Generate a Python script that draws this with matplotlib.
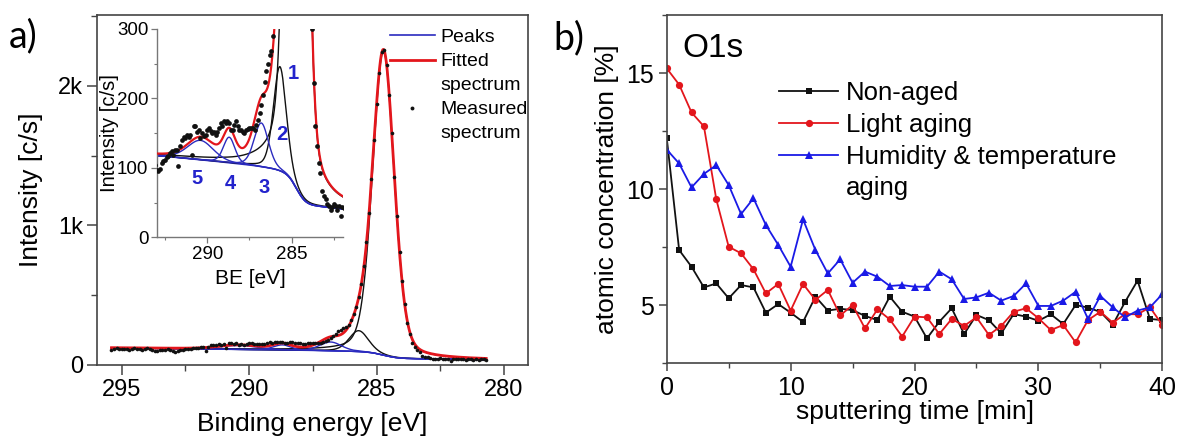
import numpy as np
import matplotlib
matplotlib.use("Agg")
import matplotlib.pyplot as plt
from matplotlib.ticker import MultipleLocator, FixedLocator, FixedFormatter
from matplotlib.lines import Line2D

plt.rcParams['font.family'] = ['Liberation Sans', 'DejaVu Sans']

# ---------------- panel a : C1s spectrum ----------------
be_first, be_step = 295.4, 0.1          # binding energy of first measured point, step (eV)
measured_counts = [
    108, 118, 122, 115, 112, 117, 114, 110, 116, 121,
    118, 113, 109, 115, 120, 112, 106, 101, 97, 104,
    110, 107, 113, 104, 97, 95, 98, 107, 110, 112,
    116, 117, 121, 124, 119, 126, 126, 102, 132, 140,
    145, 143, 148, 145, 148, 119, 160, 160, 152, 155,
    143, 150, 146, 148, 155, 157, 153, 150, 152, 148,
    152, 157, 164, 160, 167, 165, 167, 164, 155, 155,
    162, 167, 160, 155, 155, 152, 150, 155, 156, 157,
    157, 157, 155, 162, 169, 179, 190, 205, 224, 240,
    250, 262, 269, 290, 322, 365, 418, 488, 580, 712,
    880, 1090, 1335, 1610, 1870, 2095, 2240, 2255, 2150, 1935,
    1660, 1350, 1065, 810, 600, 440, 300, 222, 160, 131,
    107, 93, 66, 60, 55, 48, 45, 40, 44, 48,
    45, 40, 45, 31, 44, 42, 46, 40, 43, 38,
    44, 41, 37, 42, 39, 43, 40, 38,
]
peak_center = [284.73, 285.70, 286.80, 288.70, 290.40]
peak_height = [2178, 150, 63, 37, 28]
peak_fwhm = [1.00, 0.90, 1.00, 0.80, 1.80]
peak_is_main = [True, True, False, False, False]
gl_fraction = 0.25
bg_low, bg_step, bg_slope = 38, 55, 2.0
peak_labels = ['1', '2', '3', '4', '5']
peak_label_be = [284.9, 285.6, 286.61, 288.62, 290.61]
peak_label_int = [236, 148, 72, 78, 85]

# ---------------- panel b : O1s depth profile ----------------
sputter_time = list(range(41))
non_aged = [12.2, 7.37, 6.65, 5.76, 5.93, 5.29, 5.86, 5.76, 4.67, 5.04,
            4.67, 4.27, 5.36, 4.76, 4.84, 4.78, 4.53, 4.35, 5.36, 4.71,
            4.5, 3.56, 4.28, 4.86, 3.75, 4.57, 4.35, 3.78, 4.61, 4.5,
            4.32, 4.6, 4.18, 5.0, 4.89, 4.7, 4.15, 5.14, 6.05, 4.4, 4.35]
light_aging = [15.2, 14.5, 13.3, 12.7, 9.55, 7.51, 7.23, 6.54, 5.50, 5.91,
               4.76, 5.91, 5.22, 5.65, 4.55, 5.0, 3.99, 4.81, 4.38, 3.64,
               4.5, 4.47, 3.75, 4.4, 4.1, 4.47, 3.71, 4.1, 4.71, 4.86,
               4.43, 3.92, 4.14, 3.39, 4.35, 4.71, 4.24, 4.61, 4.6, 4.9, 4.14]
humid_aging = [11.7, 11.1, 10.07, 10.65, 11.03, 10.17, 8.92, 9.6, 8.45, 7.59,
               6.65, 8.69, 7.37, 6.36, 6.97, 5.96, 6.44, 6.22, 5.82, 5.86,
               5.79, 5.79, 6.44, 6.11, 5.26, 5.33, 5.53, 5.19, 5.39, 5.93,
               4.96, 4.96, 5.19, 5.57, 4.4, 5.39, 4.9, 4.47, 4.76, 4.9, 5.47]
series_labels = ['Non-aged', 'Light aging', 'Humidity & temperature', 'aging']

# ---------------- styles ----------------
RED = '#e3161c'
BLUE_A = '#2b2bbf'
BLUE_B = '#1a1ae6'
BLACK = '#111111'
SPINE = '#444444'

be_meas = be_first - be_step * np.arange(len(measured_counts))
meas = np.array(measured_counts, dtype=float)


def pseudo_voigt(e, c, h, w, eta):
    d = e - c
    g = np.exp(-4 * np.log(2) * d ** 2 / w ** 2)
    lor = (w / 2) ** 2 / (d ** 2 + (w / 2) ** 2)
    return h * ((1 - eta) * g + eta * lor)


E = np.linspace(be_meas.min(), be_meas.max(), 2000)
comps = [pseudo_voigt(E, c, h, w, gl_fraction)
         for c, h, w in zip(peak_center, peak_height, peak_fwhm)]
peak_sum = np.sum(comps, axis=0)
cum = np.cumsum(peak_sum)
shirley = cum / cum[-1]
background = bg_low + bg_step * shirley + bg_slope * (E - E.min())
fitted = background + peak_sum

fig = plt.figure(figsize=(11.78, 4.38), dpi=100)

# ---- main axes a ----
ax = fig.add_axes([0.0821, 0.1667, 0.3659, 0.7998])
ax.plot(E, background, color=BLUE_A, lw=1.0, zorder=2)
for comp, main in zip(comps, peak_is_main):
    ax.plot(E, background + comp, color=(BLACK if main else BLUE_A), lw=1.0, zorder=2)
ax.plot(E, fitted, color=RED, lw=2.0, zorder=3)
ax.plot(be_meas, meas, 'o', ms=2.6, color=BLACK, mew=0, zorder=4)
ax.set_xlim(295.98, 279.07)
ax.set_ylim(0, 2510)
ax.xaxis.set_major_locator(MultipleLocator(5))
ax.xaxis.set_minor_locator(MultipleLocator(2.5))
ax.yaxis.set_major_locator(FixedLocator([0, 1000, 2000]))
ax.yaxis.set_major_formatter(FixedFormatter(['0', '1k', '2k']))
ax.yaxis.set_minor_locator(MultipleLocator(500))
ax.tick_params(which='major', direction='out', length=7, width=1.1, labelsize=17, pad=3, color=SPINE)
ax.tick_params(which='minor', direction='out', length=4, width=1.0, color=SPINE)
for s in ax.spines.values():
    s.set_color(SPINE)
    s.set_linewidth(1.2)
ax.set_xlabel('Binding energy [eV]', fontsize=19)
ax.set_ylabel('Intensity [c/s]', fontsize=19)
ax.xaxis.set_label_coords(0.5, -0.135)
ax.yaxis.set_label_coords(-0.125, 0.5)

leg_handles = [Line2D([], [], color=BLUE_A, lw=1.2),
               Line2D([], [], color=RED, lw=2.0),
               Line2D([], [], color='none'),
               Line2D([], [], ls='none', marker='o', ms=2.8, color=BLACK, mew=0),
               Line2D([], [], color='none')]
ax.legend(leg_handles, ['Peaks', 'Fitted', 'spectrum', 'Measured', 'spectrum'],
          loc='upper left', bbox_to_anchor=(0.68, 0.96), frameon=False, fontsize=14,
          handlelength=2.3, handletextpad=0.3, labelspacing=0.33, borderpad=0,
          borderaxespad=0)

# ---- inset ----
axi = fig.add_axes([0.1330, 0.4582, 0.1584, 0.4756])
axi.patch.set_alpha(0)
axi.plot(E, background, color=BLUE_A, lw=1.0, zorder=2)
for comp, main in zip(comps, peak_is_main):
    axi.plot(E, background + comp, color=(BLACK if main else BLUE_A), lw=1.0, zorder=2)
axi.plot(E, fitted, color=RED, lw=1.6, zorder=3)
axi.plot(be_meas, meas, 'o', ms=3.4, color=BLACK, mew=0, zorder=4)
axi.set_xlim(292.99, 281.95)
axi.set_ylim(0, 300)
axi.spines['top'].set_visible(False)
axi.spines['right'].set_visible(False)
for s in ['left', 'bottom']:
    axi.spines[s].set_color('#777777')
    axi.spines[s].set_linewidth(1.0)
axi.xaxis.set_major_locator(MultipleLocator(5))
axi.xaxis.set_minor_locator(MultipleLocator(2.5))
axi.yaxis.set_major_locator(MultipleLocator(100))
axi.yaxis.set_minor_locator(MultipleLocator(50))
axi.tick_params(which='major', direction='out', length=4, width=0.9, labelsize=13.5, pad=2, color='#777777')
axi.tick_params(which='minor', direction='out', length=2.5, width=0.8, color='#777777')
axi.set_xlabel('BE [eV]', fontsize=15)
axi.set_ylabel('Intensity [c/s]', fontsize=14.5)
axi.xaxis.set_label_coords(0.5, -0.152)
axi.yaxis.set_label_coords(-0.2, 0.5)
for lab, x, y in zip(peak_labels, peak_label_be, peak_label_int):
    axi.text(x, y, lab, color='#2323cc', fontsize=14.5, fontweight='bold',
             ha='center', va='center', zorder=6)

# ---- panel b ----
bx = fig.add_axes([0.5660, 0.1712, 0.4207, 0.7945])
l1, = bx.plot(sputter_time, non_aged, '-s', color=BLACK, lw=1.3, ms=4.5, mew=0)
l2, = bx.plot(sputter_time, light_aging, '-o', color=RED, lw=1.3, ms=5.2, mew=0)
l3, = bx.plot(sputter_time, humid_aging, '-^', color=BLUE_B, lw=1.3, ms=5.5, mew=0)
bx.set_xlim(0, 40)
bx.set_ylim(2.5, 17.5)
bx.xaxis.set_major_locator(MultipleLocator(10))
bx.xaxis.set_minor_locator(MultipleLocator(5))
bx.yaxis.set_major_locator(FixedLocator([5, 10, 15]))
bx.yaxis.set_minor_locator(MultipleLocator(2.5))
bx.tick_params(which='major', direction='out', length=6, width=1.1, labelsize=18, pad=3, color=SPINE)
bx.tick_params(which='minor', direction='out', length=3.5, width=1.0, color=SPINE)
for s in bx.spines.values():
    s.set_color(SPINE)
    s.set_linewidth(1.2)
bx.set_xlabel('sputtering time [min]', fontsize=19)
bx.set_ylabel('atomic concentration [%]', fontsize=19)
bx.xaxis.set_label_coords(0.5, -0.105)
bx.yaxis.set_label_coords(-0.096, 0.5)
bx.text(0.031, 0.879, 'O1s', transform=bx.transAxes, fontsize=24, va='baseline')
blank = Line2D([], [], color='none')
bx.legend([l1, l2, l3, blank], series_labels, loc='upper left',
          bbox_to_anchor=(0.2266, 0.81), frameon=False, fontsize=18.5,
          handlelength=2.3, handletextpad=0.3, labelspacing=0.3, borderpad=0,
          borderaxespad=0)

fig.text(0.0195, 0.918, 'a)', fontsize=27, family=['Lato', 'DejaVu Sans'], ha='center', va='center')
fig.text(0.483, 0.912, 'b)', fontsize=27, family=['Lato', 'DejaVu Sans'], ha='center', va='center')

fig.savefig('out.png', dpi=100)
